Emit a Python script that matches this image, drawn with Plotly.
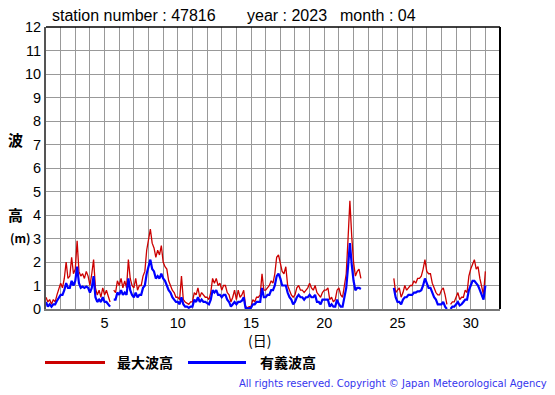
import numpy as np
import plotly.graph_objects as go

# ---- data (3-hourly, starting day 1.0 of April 2023) ----
t_start = 1.0
t_step = 0.125
N = None
hmax = [
    0.5, 0.3, 0.4, 0.2, 0.4, 0.3, 0.6, 0.9,        # 1
    1.1, 0.9, 1.3, 2.0, 1.3, 1.4, 2.2, 1.5,        # 2
    1.7, 2.9, 1.6, 1.4, 1.5, 1.3, 1.6, 1.4,        # 3
    1.0, 1.5, 2.1, 0.9, 0.6, 0.8, 0.5, 0.9,        # 4
    0.6, 0.8, 0.5, 0.3, N, 0.8, 0.7, 1.2,          # 5
    1.0, 1.3, 0.9, 1.2, 0.9, 2.1, 1.3, 1.0,        # 6
    0.9, 1.3, 0.8, 1.0, 1.0, 1.4, 1.6, 2.5,        # 7
    2.9, 3.4, 2.8, 2.6, 2.2, 2.5, 2.3, 2.7,        # 8
    2.0, 1.8, 1.7, 1.2, 1.0, 0.8, 0.7, 0.5,        # 9
    0.5, 0.4, 1.4, 0.4, 0.3, 0.25, 0.2, 0.3,       # 10
    0.3, 0.7, 0.6, 0.9, 0.5, 0.7, 0.6, 0.5,        # 11
    0.5, 0.4, 0.7, 1.3, 1.1, 1.3, 1.0, 1.1,        # 12
    0.8, 1.0, 1.0, 0.7, 0.6, 0.3, 0.5, 0.8,        # 13
    0.4, 0.8, 0.5, 0.6, 0.8, 0.1, 0.05, 0.1,       # 14
    0.1, 0.4, 0.3, 0.5, 0.5, 0.6, 1.5, 0.8,        # 15
    0.8, 0.9, 1.0, 1.2, 1.1, 1.5, 2.2, 2.3,        # 16
    2.0, 1.6, 1.5, 1.8, 1.0, 0.8, 0.6, 0.5,        # 17
    0.6, 0.9, 1.0, 0.8, 0.8, 0.7, 0.8, 0.9,        # 18
    1.1, 0.9, 0.8, 1.0, 0.7, 0.6, 0.5, 0.7,        # 19
    0.8, 0.8, 0.9, 0.4, 0.5, 0.3, 0.4, 0.8,        # 20
    0.9, 0.6, 0.5, 1.0, 1.5, 3.0, 4.6, 3.1,        # 21
    2.0, 1.4, 1.6, 1.7, 1.3, N, N, N,              # 22
    N, N, N, N, N, N, N, N,                        # 23
    N, N, N, N, N, N, 1.3, 0.7,                    # 24
    0.8, 0.9, 0.5, 0.7, 1.0, 0.8, 0.9, 1.0,        # 25
    1.0, 1.2, 1.1, 1.3, 1.3, 1.4, 1.7, 2.1,        # 26
    1.6, 1.5, 1.5, 1.1, 0.9, 0.7, 0.6, 0.6,        # 27
    0.8, 0.9, 0.6, 0.2, N, 0.2, 0.3, 0.3,          # 28
    0.5, 0.7, 0.4, 0.5, 0.5, 0.8, 0.7, 1.4,        # 29
    1.7, 1.9, 2.1, 1.7, 1.8, 1.3, 1.0, 0.6,        # 30
    1.6,                                           # 31
]
h13 = [
    0.3, 0.1, 0.2, 0.1, 0.2, 0.2, 0.35, 0.5,       # 1
    0.6, 0.6, 0.8, 1.1, 0.9, 0.9, 1.2, 1.0,        # 2
    1.2, 1.8, 1.1, 0.9, 0.95, 0.9, 0.95, 0.9,      # 3
    0.7, 0.9, 1.4, 0.5, 0.3, 0.4, 0.3, 0.5,        # 4
    0.3, 0.3, 0.2, 0.1, N, 0.4, 0.4, 0.7,          # 5
    0.6, 0.8, 0.6, 0.7, 0.6, 1.3, 0.8, 0.6,        # 6
    0.5, 0.7, 0.5, 0.6, 0.6, 0.9, 1.0, 1.5,        # 7
    1.8, 2.1, 1.7, 1.6, 1.3, 1.4, 1.3, 1.5,        # 8
    1.3, 1.2, 1.0, 0.8, 0.7, 0.5, 0.4, 0.3,        # 9
    0.3, 0.2, 0.5, 0.2, 0.1, 0.1, 0.05, 0.1,       # 10
    0.1, 0.4, 0.3, 0.5, 0.3, 0.4, 0.3, 0.3,        # 11
    0.25, 0.2, 0.4, 0.8, 0.7, 0.8, 0.6, 0.6,       # 12
    0.5, 0.6, 0.6, 0.4, 0.3, 0.1, 0.2, 0.3,        # 13
    0.2, 0.3, 0.3, 0.35, 0.5, 0.05, 0.02, 0.05,    # 14
    0.05, 0.2, 0.2, 0.3, 0.3, 0.3, 0.9, 0.5,       # 15
    0.5, 0.6, 0.6, 0.8, 0.8, 1.0, 1.4, 1.5,        # 16
    1.3, 1.0, 1.0, 1.0, 0.7, 0.5, 0.4, 0.2,        # 17
    0.3, 0.5, 0.6, 0.5, 0.5, 0.4, 0.5, 0.5,        # 18
    0.6, 0.5, 0.5, 0.6, 0.3, 0.3, 0.2, 0.4,        # 19
    0.4, 0.4, 0.4, 0.1, 0.2, 0.1, 0.1, 0.4,        # 20
    0.2, 0.1, 0.1, 0.5, 0.9, 1.8, 2.8, 1.9,        # 21
    1.2, 0.8, 0.9, 0.9, 0.85, N, N, N,             # 22
    N, N, N, N, N, N, N, N,                        # 23
    N, N, N, N, N, N, 0.9, 0.5,                    # 24
    0.3, 0.3, 0.2, 0.4, 0.5, 0.5, 0.6, 0.6,        # 25
    0.6, 0.7, 0.7, 0.75, 0.75, 0.8, 1.0, 1.3,      # 26
    1.1, 0.9, 0.9, 0.7, 0.5, 0.4, 0.2, 0.2,        # 27
    0.2, 0.3, 0.1, 0.0, N, 0.0, 0.1, 0.1,          # 28
    0.2, 0.3, 0.15, 0.2, 0.3, 0.4, 0.4, 0.8,       # 29
    1.0, 1.2, 1.2, 1.1, 1.0, 0.8, 0.6, 0.4,        # 30
    1.0,                                           # 31
]
x_ticks = [5, 10, 15, 20, 25, 30]
y_ticks = list(range(0, 13))
station = "47816"
year = "2023"
month = "04"
names = ["最大波高", "有義波高"]
colors = ["#cc0000", "#0000ff"]

t = t_start + t_step * np.arange(len(hmax))

# ---- geometry (page body has an 8px margin, so shift everything by it) ----
OFF = 8
W, H = 555 - OFF, 395 - OFF
L, R, T, B = 46 - OFF, 500 - OFF, 27 - OFF, 309.5 - OFF
pw, ph = R - L, B - T

def px(x):
    return (x - OFF - L) / pw

def py(y):
    return (B - (y - OFF)) / ph

fig = go.Figure()
fig.add_trace(go.Scatter(x=t, y=hmax, mode="lines", name=names[0],
                         line=dict(color=colors[0], width=1.3), showlegend=False))
fig.add_trace(go.Scatter(x=t, y=h13, mode="lines", name=names[1],
                         line=dict(color=colors[1], width=2.2), showlegend=False))

font = "Liberation Sans, Arial, sans-serif"
cjk = "Noto Sans CJK JP, sans-serif"

fig.update_layout(
    width=W, height=H,
    margin=dict(l=L, r=W - R, t=T, b=H - B, pad=0),
    paper_bgcolor="white", plot_bgcolor="white",
    font=dict(family=font, size=14, color="black"),
    xaxis=dict(range=[1, 32], tickvals=x_ticks, ticks="", ticklen=0, showgrid=True,
               gridcolor="#999999", gridwidth=1, zeroline=False,
               showline=True, linecolor="#777777", linewidth=2,
               tickfont=dict(size=14.5), ticklabelstandoff=0,
               minor=dict(dtick=1, tick0=1, showgrid=True, gridcolor="#999999", gridwidth=1)),
    yaxis=dict(range=[0, 12], tickvals=y_ticks, ticks="", ticklen=0, showgrid=True,
               gridcolor="#999999", gridwidth=1, zeroline=False,
               showline=True, linecolor="#555555", linewidth=2,
               tickfont=dict(size=14.5), ticklabelstandoff=0),
)

# top / right frame
fig.add_shape(type="line", xref="paper", yref="paper", x0=0, x1=1, y0=1, y1=1,
              line=dict(color="black", width=1.5))
fig.add_shape(type="line", xref="paper", yref="paper", x0=1, x1=1, y0=0, y1=1,
              line=dict(color="black", width=2))

ann = []
def text(x, y, s, size=14, fam=font, xanchor="left", color="black"):
    ann.append(dict(x=px(x), y=py(y), xref="paper", yref="paper", text=s, showarrow=False,
                    xanchor=xanchor, yanchor="middle", font=dict(size=size, family=fam, color=color)))

text(50, 15, "station number : " + station, size=16)
text(245, 15, "year : " + year, size=16)
text(338, 15, "month : " + month, size=16)
text(15, 140, "<b>波</b>", size=15, fam=cjk, xanchor="center")
text(15, 215, "<b>高</b>", size=15, fam=cjk, xanchor="center")
text(8, 238, "<b>(m)</b>", size=12, fam=cjk, xanchor="left")
text(259, 341, "(日)", size=14, fam=cjk, xanchor="center")
text(115, 363, "<b>" + names[0] + "</b>", size=14, fam=cjk)
text(258, 363, "<b>" + names[1] + "</b>", size=14, fam=cjk)
text(549, 384, "All rights reserved. Copyright © Japan Meteorological Agency",
     size=10, fam="DejaVu Sans, Verdana, sans-serif", xanchor="right", color="#3535ee")
fig.update_layout(annotations=ann)

# legend line samples
fig.add_shape(type="line", xref="paper", yref="paper", x0=px(45), x1=px(105), y0=py(363), y1=py(363),
              line=dict(color=colors[0], width=3))
fig.add_shape(type="line", xref="paper", yref="paper", x0=px(188), x1=px(246), y0=py(363), y1=py(363),
              line=dict(color=colors[1], width=3))

fig.write_html("out.html")
